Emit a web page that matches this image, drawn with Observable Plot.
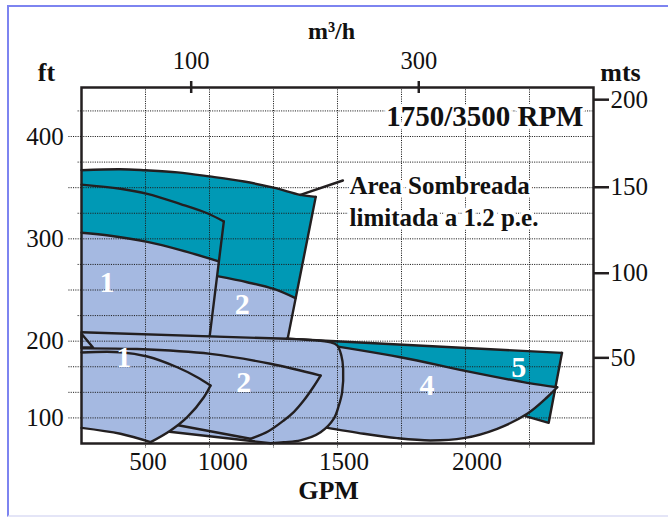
<!DOCTYPE html>
<html><head><meta charset="utf-8">
<script src="https://cdn.jsdelivr.net/npm/d3@7"></script>
<script src="https://cdn.jsdelivr.net/npm/@observablehq/plot@0.6"></script>
<style>
html,body{margin:0;padding:0;background:#fff;width:668px;height:519px;overflow:hidden}
#border{position:absolute;left:7px;top:5px;width:700px;height:508px;border-top:2.5px solid #7d84f0;border-left:2.5px solid #7d84f0;border-bottom:2px solid #e4e5f7;}
#chart{position:absolute;left:0;top:0}
</style></head>
<body><div id="border"></div><div id="chart"></div>
<script>
// ---- data (x: GPM, y: ft) ----
const upperShadeTop = [[500,367],[650,368],[750,367],[875,365],[1000,361],[1135,356],[1250,350],[1355,343],[1415,341]];
const upperShadeRight = [[1415,341],[1305,202]];
const upperShadeBase = [[500,208]];
const upperMaxCurve = [[500,353],[652,349],[757,344],[887,334],[991,325],[1056,317]];
const upperDivider = [[1056,317],[1001,205.5]];
const upper1Top = [[500,306],[613,303],[757,297],[887,289],[1036,278]];
const upper1Base = [[1001,205.5],[500,208]];
const upper2Top = [[1030,263.5],[1147,257.6],[1251,251],[1336,242]];
const upper2Base = [[1305,202],[1001,205.5]];
const shade5Top = [[1303,202.3],[2377,188.6]];
const shade5Right = [[2377,188.6],[2325,120.2],[2234,126.7]];
const shade5Hidden = [[2000,140],[1400,190]];
const model4Top = [[1316,202],[1746,184.3],[1993,171.3],[2241,159.3],[2358,155]];
const model4Curve = [[2358,155],[2319,145.2],[2241,129],[2124,114.4],[1993,105.2],[1863,103],[1733,105.2],[1603,109.5],[1446,116]];
const model4Hidden = [[1400,125]];
const model3Top = [[500,208.7],[1303,202.3]];
const model3Curve = [[1303,202.3],[1473,198.8],[1499,195.8],[1515,186],[1522,173.3],[1518,150],[1505,137],[1485,124],[1434,111],[1355,103],[1290,101.3],[1238,100.3]];
const model3Bottom = [[1238,100.3],[835,111.7]];
const model3Hidden = [[700,115],[500,120]];
const wedge = [[500,207.2],[545,193.8],[500,193.8]];
const model2Top = [[500,193],[717,192.3],[1004,187.6],[1238,177.9],[1434,166.4]];
const model2Curve = [[1434,166.4],[1405,155],[1368,142],[1330,131],[1290,122.5],[1230,112],[1160,104.6]];
const model2Bottom = [[1160,104.6],[867,118.3]];
const model2Hidden = [[600,125],[500,130]];
const model1Top = [[500,189],[652,189.2],[757,185],[874,174.5],[952,164.8],[1004,156.7]];
const model1Curve = [[1004,156.7],[978,145.2],[913,125.7],[848,112.7],[770,101.3]];
const model1Bottom = [[770,101.3],[652,109.5],[500,115.3]];

const regionNames = ["1","2","1","2","4","5"];
const regionX = [600,1128,665,1134,1850,2208];
const regionY = [257.6,235.8,183.7,160,156.7,174.6];

const gpmTickLabels = ["500","1000","1500","2000"];
const gpmTickPos = [760,1052,1525,2045];
const m3hTickLabels = ["100","300"];
const m3hTickPos = [928.5,1817.5];
const ftTickLabels = ["400","300","200","100"];
const ftTickPos = [400,300,200,125];
const mtsTickLabels = ["200","150","100","50"];
const mtsTickPos = [436,350.4,266.4,183.7];
const gridX = [750,1000,1250,1500,1750,2000,2250];
const gridYLong = [400,350,300,250,200,175,150,125];
const gridYShort = [425,375,325,275,225];

const noteLines = ["Area Sombreada","limitada a 1.2 p.e."];
const noteX = [1547,1547];
const noteY = [344,313];
const leader = [[1355,343],[1521,357]];

// ---- styles ----
const ink = "#231f20";
const teal = "#0099b5";
const lightBlue = "#a5b9e1";
const serif = "'Liberation Serif','Times New Roman',serif";
const dots = "1.1,1.2";
const gridInk = "#1e1e1e";

const X = d => d[0], Y = d => d[1];
const fillPoly = (pts, color) => Plot.line(pts, {x: X, y: Y, fill: color, stroke: "none", curve: "linear-closed"});
const edge = (pts, curve = "catmull-rom") => Plot.line(pts, {x: X, y: Y, stroke: ink, strokeWidth: 2.4, curve, strokeLinejoin: "round", strokeLinecap: "round"});

const shapeMarks = [
  fillPoly([...upperShadeTop, ...upperShadeRight.slice(1), ...upperShadeBase], teal),
  edge(upperShadeTop),
  fillPoly([...upper1Top, ...upper1Base], lightBlue),
  fillPoly([...upper2Top, ...upper2Base], lightBlue),
  edge(upperMaxCurve), edge(upperDivider), edge(upper1Top), edge(upper2Top), edge(upperShadeRight),
  fillPoly([...shade5Top, ...shade5Right.slice(1), ...shade5Hidden], teal),
  edge(shade5Top, "linear"), edge(shade5Right, "linear"),
  fillPoly([...model4Top, ...model4Curve.slice(1), ...model4Hidden], lightBlue),
  edge(model4Top), edge(model4Curve),
  fillPoly([...model3Top, ...model3Curve.slice(1), ...model3Bottom.slice(1), ...model3Hidden], lightBlue),
  edge(model3Top, "linear"), edge(model3Curve), edge(model3Bottom, "linear"),
  fillPoly(wedge, lightBlue),
  edge(wedge, "linear-closed"),
  fillPoly([...model2Top, ...model2Curve.slice(1), ...model2Bottom.slice(1), ...model2Hidden], lightBlue),
  edge(model2Top), edge(model2Curve), edge(model2Bottom, "linear"),
  fillPoly([...model1Top, ...model1Curve.slice(1), ...model1Bottom.slice(1)], lightBlue),
  edge(model1Top), edge(model1Curve), edge(model1Bottom)
];

const plot = Plot.plot({
  width: 668, height: 519,
  marginLeft: 81, marginRight: 75, marginTop: 87, marginBottom: 76,
  style: {background: "transparent", fontFamily: serif, overflow: "visible"},
  x: {domain: [500, 2500], axis: null},
  y: {domain: [100, 447.9], axis: null},
  marks: [
    ...shapeMarks,
    Plot.ruleX(gridX, {stroke: gridInk, strokeWidth: 1, strokeDasharray: dots}),
    Plot.ruleY([...gridYLong, ...gridYShort], {stroke: gridInk, strokeWidth: 1, strokeDasharray: dots}),
    // extensions of the grid outside the frame
    Plot.axisY(gridYLong, {anchor: "left", tickSize: 13, stroke: gridInk, strokeDasharray: dots, tickFormat: () => ""}),
    Plot.axisY(gridYShort, {anchor: "left", tickSize: 4, stroke: gridInk, strokeDasharray: dots, tickFormat: () => ""}),
    Plot.axisX(gridX, {anchor: "bottom", tickSize: 5, stroke: gridInk, strokeDasharray: dots, tickFormat: () => ""}),
    // leader line
    Plot.line(leader, {x: X, y: Y, stroke: ink, strokeWidth: 2.5}),
    Plot.frame({stroke: ink, strokeWidth: 2.5}),
    // axes
    Plot.axisY(ftTickPos, {anchor: "left", tickSize: 13, tickPadding: 4.7, stroke: "none", color: "#111", fontSize: 25, tickFormat: d => ftTickLabels[ftTickPos.indexOf(d)]}),
    Plot.axisY(mtsTickPos, {anchor: "right", tickSize: 15, tickPadding: 2, stroke: ink, strokeWidth: 2.5, color: "#111", fontSize: 25, tickFormat: d => mtsTickLabels[mtsTickPos.indexOf(d)]}),
    Plot.axisX(gpmTickPos, {anchor: "bottom", tickSize: 0, tickPadding: 9, stroke: "none", color: "#111", fontSize: 25, tickFormat: d => gpmTickLabels[gpmTickPos.indexOf(d)]}),
    Plot.axisX(m3hTickPos, {anchor: "top", tickSize: 0, tickPadding: 19, stroke: "none", color: "#111", fontSize: 24.5, tickFormat: d => m3hTickLabels[m3hTickPos.indexOf(d)]}),
    Plot.axisX(m3hTickPos, {anchor: "top", tickSize: 12, dy: 5, stroke: ink, strokeWidth: 2.5, tickFormat: () => ""}),
    // titles
    Plot.text(["ft"], {frameAnchor: "top-left", dx: -35, dy: -7, textAnchor: "middle", lineAnchor: "bottom", fontSize: 26, fontWeight: "bold", fill: "#111"}),
    Plot.text(["mts"], {frameAnchor: "top-right", dx: 27, dy: -7, textAnchor: "middle", lineAnchor: "bottom", fontSize: 26, fontWeight: "bold", fill: "#111"}),
    Plot.text(["m³/h"], {frameAnchor: "top", dx: -6, dy: -49, textAnchor: "middle", lineAnchor: "bottom", fontSize: 24, fontWeight: "bold", fill: "#111"}),
    Plot.text(["GPM"], {frameAnchor: "bottom", dx: -9, dy: 55, textAnchor: "middle", lineAnchor: "bottom", fontSize: 26, fontWeight: "bold", fill: "#111"}),
    Plot.text(["1750/3500 RPM"], {frameAnchor: "top-right", dx: -10, dy: 38, textAnchor: "end", lineAnchor: "bottom", fontSize: 29, fontWeight: "bold", fill: "#111", stroke: "white", strokeWidth: 7, paintOrder: "stroke"}),
    Plot.text(noteLines, {x: (d, i) => noteX[i], y: (d, i) => noteY[i], textAnchor: "start", lineAnchor: "bottom", fontSize: 25, fontWeight: "bold", fill: "#111", stroke: "white", strokeWidth: 7, paintOrder: "stroke"}),
    Plot.text(regionNames, {x: (d, i) => regionX[i], y: (d, i) => regionY[i], fill: "white", fontSize: 30, fontWeight: "bold"})
  ]
});
document.getElementById("chart").append(plot);
</script>
</body></html>
